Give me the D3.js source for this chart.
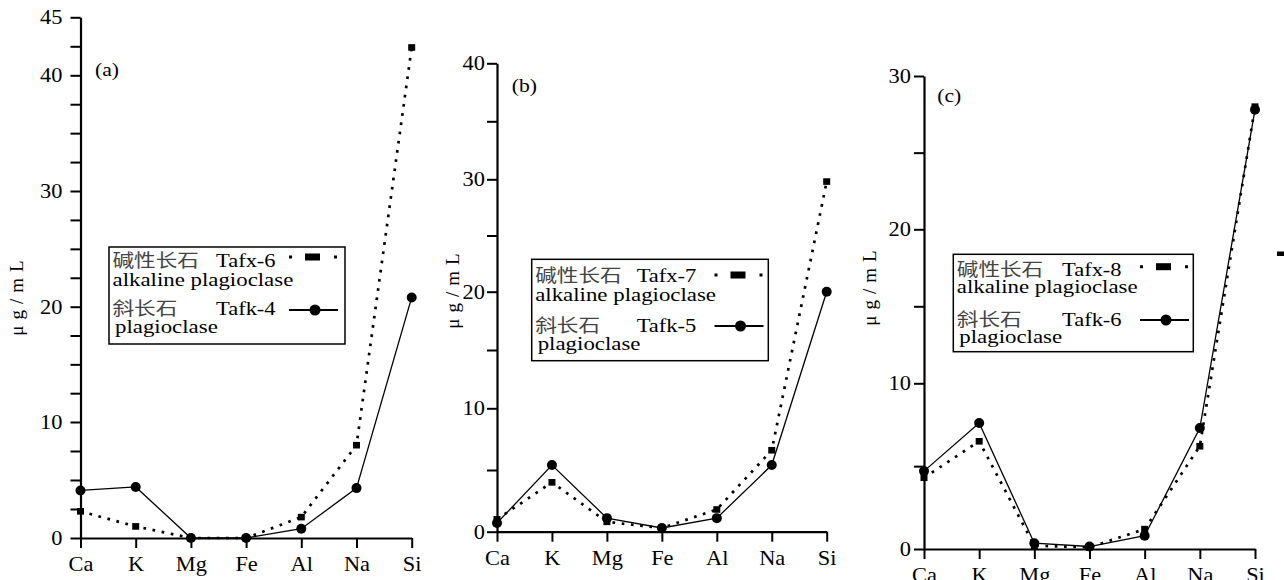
<!DOCTYPE html>
<html>
<head>
<meta charset="utf-8">
<script src="https://cdn.jsdelivr.net/npm/d3@7"></script>
<style>
  body { margin: 0; background: #fff; }
  svg { display: block; }
</style>
</head>
<body>
<script>
// categories and series
let elements = ['Ca', 'K', 'Mg', 'Fe', 'Al', 'Na', 'Si'];

let alkalineA = [2.3, 1.0, 0, 0, 1.8, 8.0, 42.4];
let plagA = [4.1, 4.4, 0, 0, 0.8, 4.3, 20.8];

let alkalineB = [1.0, 4.0, 0.8, 0.3, 1.8, 6.6, 29.8];
let plagB = [0.7, 5.4, 1.1, 0.3, 1.1, 5.4, 20.0];

let alkalineC = [4.3, 6.5, 0.2, 0.1, 1.2, 6.2, 28.0];
let plagC = [4.7, 7.6, 0.35, 0.15, 0.8, 7.3, 27.8];

// tick labels per panel
let tickLabelsA = [0, 10, 20, 30, 40, 45];
let tickLabelsB = [0, 10, 20, 30, 40];
let tickLabelsC = [0, 10, 20, 30];

let panelTitles = ['(a)', '(b)', '(c)'];
let alkalineNames = ['Tafx-6', 'Tafx-7', 'Tafx-8'];
let plagNames = ['Tafk-4', 'Tafk-5', 'Tafk-6'];
let alkalineCn = '碱性长石';
let plagCn = '斜长石';
let alkalineEn = 'alkaline plagioclase';
let plagEn = 'plagioclase';
let yTitle = 'μg/mL';

let serif = "'Liberation Serif', 'Times New Roman', serif";
let cjk = "'Noto Sans CJK SC', sans-serif";

// layout of each panel (the scanned original is a bit uneven, so y uses the tick positions)
let panels = [
  {
    alk: alkalineA, plag: plagA, labels: tickLabelsA, step: 2.5,
    x0: 80.5, x1: 411.7, yRange: [538, 422, 306.7, 191, 75.3, 17.3], pad: 8,
    title: [95, 76], ylab: [16, 295],
    legend: { x: 109, y: 247, w: 236, h: 97, rows: [266.7, 286, 315, 333], nameX: 216, sx: 289, sy: [257, 310] }
  },
  {
    alk: alkalineB, plag: plagB, labels: tickLabelsB, step: 5,
    x0: 497, x1: 826.7, yRange: [531.7, 408.3, 291.7, 179.3, 63.3], pad: 2,
    title: [511.7, 92], ylab: [452, 288],
    legend: { x: 531.7, y: 259.3, w: 236.6, h: 101.4, rows: [282, 301, 332, 350], nameX: 636.7, sx: 714.5, sy: [275, 326] }
  },
  {
    alk: alkalineC, plag: plagC, labels: tickLabelsC, step: 5,
    x0: 924, x1: 1255, yRange: [549, 383.3, 229.3, 76], pad: 3,
    title: [937.3, 102], ylab: [869, 285],
    legend: { x: 953.3, y: 254.3, w: 240, h: 97.4, rows: [276, 293, 326, 343.3], nameX: 1062, sx: 1140, sy: [266.7, 320] }
  }
];

let svg = d3.select('body').append('svg');
svg.attr('width', 1284);
svg.attr('height', 580);

panels.forEach(function(p, i) {
  let g = svg.append('g').attr('id', 'panel-' + i);

  // scales
  let x = d3.scalePoint().domain(elements).range([p.x0, p.x1]);
  let y = d3.scaleLinear().domain(p.labels).range(p.yRange);

  let top = p.labels[p.labels.length - 1];

  // y axis
  let axisY = d3.axisLeft(y)
    .tickValues(d3.range(0, top + 0.001, p.step))
    .tickSize(10)
    .tickSizeOuter(0)
    .tickPadding(p.pad)
    .tickFormat(d => p.labels.includes(d) ? d : '');

  let gy = g.append('g').attr('class', 'axis');
  gy.attr('transform', translate(p.x0, 0));
  gy.call(axisY);
  styleAxis(gy);

  // x axis
  let axisX = d3.axisBottom(x)
    .tickSize(10)
    .tickSizeOuter(0)
    .tickPadding(9.3);

  let gx = g.append('g').attr('class', 'axis');
  gx.attr('transform', translate(0, y(0)));
  gx.call(axisX);
  styleAxis(gx);

  // y title
  let yt = g.append('text');
  yt.attr('transform', translate(p.ylab[0], p.ylab[1]) + ' rotate(-90)');
  yt.attr('text-anchor', 'middle');
  yt.attr('dy', '0.35em');
  yt.attr('font-family', serif);
  yt.attr('font-size', 19);
  yt.attr('letter-spacing', 6);
  yt.text(yTitle);

  // panel label
  stretchText(g, p.title[0], p.title[1], panelTitles[i], 18, 1.2, serif);

  // legend
  let L = p.legend;
  let box = g.append('rect');
  box.attr('x', L.x).attr('y', L.y).attr('width', L.w).attr('height', L.h);
  box.attr('fill', 'none').attr('stroke', '#000').attr('stroke-width', 1.5);

  stretchText(g, L.x + 3.5, L.rows[0], alkalineCn, 18, 1.2, cjk).attr('fill', '#444');
  stretchText(g, L.nameX, L.rows[0], alkalineNames[i], 18, 1.25, serif);
  stretchText(g, L.x + 3.5, L.rows[1], alkalineEn, 18, 1.27, serif);
  stretchText(g, L.x + 3.5, L.rows[2], plagCn, 18, 1.2, cjk).attr('fill', '#444');
  stretchText(g, L.nameX, L.rows[2], plagNames[i], 18, 1.25, serif);
  stretchText(g, L.x + 6, L.rows[3], plagEn, 18, 1.27, serif);

  // legend sample: dotted with square
  g.append('line')
    .attr('x1', L.sx).attr('x2', L.sx + 48)
    .attr('y1', L.sy[0]).attr('y2', L.sy[0])
    .attr('stroke', '#000').attr('stroke-width', 3)
    .attr('stroke-dasharray', '3,42');
  g.append('rect')
    .attr('x', L.sx + 16).attr('y', L.sy[0] - 3.5)
    .attr('width', 15).attr('height', 7);

  // legend sample: solid with circle
  g.append('line')
    .attr('x1', L.sx).attr('x2', L.sx + 49)
    .attr('y1', L.sy[1]).attr('y2', L.sy[1])
    .attr('stroke', '#000').attr('stroke-width', 2.2);
  g.append('circle')
    .attr('cx', L.sx + 26).attr('cy', L.sy[1]).attr('r', 5.5);

  // data lines
  let line = d3.line()
    .x((d, k) => x(elements[k]))
    .y(d => y(d));

  g.append('path')
    .datum(p.alk)
    .attr('d', line)
    .attr('fill', 'none')
    .attr('stroke', '#000')
    .attr('stroke-width', 2.7)
    .attr('stroke-dasharray', '2.7,6.6');

  g.selectAll('rect.alk')
    .data(p.alk)
    .enter()
    .append('rect')
    .attr('class', 'alk')
    .attr('x', (d, k) => x(elements[k]) - 3.5)
    .attr('y', d => y(d) - 3.3)
    .attr('width', 7)
    .attr('height', 6.6);

  g.append('path')
    .datum(p.plag)
    .attr('d', line)
    .attr('fill', 'none')
    .attr('stroke', '#000')
    .attr('stroke-width', 1.3);

  g.selectAll('circle.plag')
    .data(p.plag)
    .enter()
    .append('circle')
    .attr('class', 'plag')
    .attr('cx', (d, k) => x(elements[k]))
    .attr('cy', d => y(d))
    .attr('r', 5);
});

// small stray mark at the right edge of the scan
svg.append('rect')
  .attr('x', 1277).attr('y', 251.5)
  .attr('width', 7).attr('height', 4.5);

function styleAxis(sel) {
  sel.attr('font-family', serif);
  sel.attr('font-size', 20);
  sel.select('.domain').attr('stroke-width', 2.2);
  sel.selectAll('.tick line').attr('stroke-width', 2);
  sel.selectAll('.tick text').each(function() {
    let t = d3.select(this);
    let tx = +t.attr('x') || 0;
    t.attr('x', 0);
    t.attr('transform', translate(tx, 0) + ' scale(1.12,1)');
  });
}

function stretchText(parent, x, y, str, size, sx, family) {
  let t = parent.append('text');
  t.attr('transform', translate(x, y) + ' scale(' + sx + ',1)');
  t.attr('font-family', family);
  t.attr('font-size', size);
  t.text(str);
  return t;
}

// helper method to make translating easier
function translate(x, y) {
  return 'translate(' + x + ',' + y + ')';
}
</script>
</body>
</html>
